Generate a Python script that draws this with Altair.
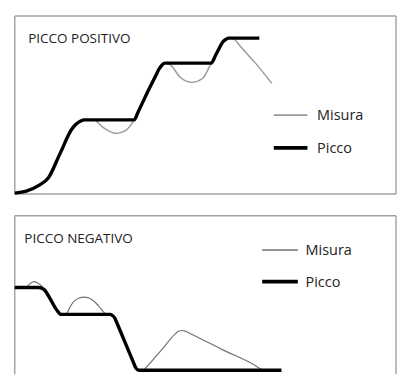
import altair as alt
import pandas as pd

# ---- data (time units, level units) ----
pos_picco_t = [0, 12, 25, 35, 47, 59, 63, 67, 72, 120, 124, 128, 137, 146, 150, 153, 156,
               200, 204, 209, 217, 220, 222, 254]
pos_picco_v = [1, 3, 9, 17, 42, 67, 72, 75, 77, 77, 77, 85, 104, 122, 130, 134, 136,
               136, 136, 145, 159, 161, 162, 162]

pos_misura_t = [0, 12, 25, 35, 47, 59, 63, 67, 72, 82, 92, 105, 115, 124, 128, 137, 146,
                150, 153, 156, 162, 172, 184, 195, 204, 209, 217, 220, 222, 226, 229,
                233, 250, 267]
pos_misura_v = [1, 3, 9, 17, 42, 67, 72, 75, 77, 77, 69, 63, 66, 77, 85, 104, 122,
                130, 134, 136, 134, 121, 116, 120, 136, 145, 159, 161, 162, 162, 160,
                155, 136, 115]

neg_picco_t = [0, 25, 28, 31, 34, 44, 47, 49, 99, 101, 104, 106, 123, 126, 129, 131, 277]
neg_picco_v = [90, 90, 89.3, 87.4, 83, 66, 62.5, 62, 62, 61.3, 58, 53.4, 12.9, 6, 4, 4, 4]

neg_misura_t = [0, 10, 12, 16, 20, 25, 29, 31, 34, 44, 47, 49, 52, 54, 57, 62, 67, 72, 77,
                82, 87, 92, 95, 99, 101, 104, 106, 123, 126, 129, 134, 136, 152, 166, 170,
                174, 178, 182, 216, 252, 257]
neg_misura_v = [90, 90, 90.5, 94, 96, 94, 90.5, 87.4, 83, 66, 62.5, 62, 62, 63, 69, 76,
                79, 80, 79, 76, 71, 65, 62, 62, 61.3, 58, 53.4, 12.9, 6, 4, 4, 6.3, 24.6,
                41.1, 44.5, 45.3, 44.2, 42.3, 25.2, 7.5, 4]

titles = ["PICCO POSITIVO", "PICCO NEGATIVO"]
legend_labels = ["Misura", "Picco"]

W = 396
H_TOP = 186
H_BOT = 165
FONT = "Open Sans"
TXT = "#222222"


def series(t, v):
    return pd.DataFrame({"t": t, "v": v, "o": list(range(len(t)))})


def lines(df, ymax, color, width):
    return alt.Chart(df).mark_line(
        interpolate="monotone", color=color, strokeWidth=width
    ).encode(
        x=alt.X("t:Q", scale=alt.Scale(domain=[0, W], nice=False, zero=True), axis=None),
        y=alt.Y("v:Q", scale=alt.Scale(domain=[0, ymax], nice=False), axis=None),
        order="o:O",
    )


def text(label, x, y, size):
    return alt.Chart(pd.DataFrame({"l": [label]})).mark_text(
        align="left", baseline="middle", font=FONT, fontSize=size, color=TXT
    ).encode(text="l:N", x=alt.value(x), y=alt.value(y))


def legend_line(x1, x2, y, color, width):
    return alt.Chart(pd.DataFrame({"a": [0]})).mark_rule(
        color=color, strokeWidth=width
    ).encode(x=alt.value(x1), x2=alt.value(x2), y=alt.value(y))


def border_rule(x1, x2, y1, y2):
    return alt.Chart(pd.DataFrame({"a": [0]})).mark_rule(
        color="#a3a3a3", strokeWidth=1.5
    ).encode(x=alt.value(x1), x2=alt.value(x2), y=alt.value(y1), y2=alt.value(y2))


MIS_TOP = "#9a9a9a"
MIS_BOT = "#707070"

top = alt.layer(
    border_rule(0, W, 1, 1),
    border_rule(0, W, H_TOP, H_TOP),
    border_rule(0, 0, 1, H_TOP),
    border_rule(W, W, 1, H_TOP),
    lines(series(pos_misura_t, pos_misura_v), H_TOP, MIS_TOP, 1.5),
    lines(series(pos_picco_t, pos_picco_v), H_TOP, "#000000", 3.5),
    text(titles[0], 14, 25, 14),
    legend_line(269, 304, 104, MIS_TOP, 2),
    legend_line(269, 304, 138, "#000000", 4),
    text(legend_labels[0], 314, 104, 15),
    text(legend_labels[1], 314, 138, 15),
).properties(width=W, height=H_TOP)

bottom = alt.layer(
    border_rule(0, W, 0.5, 0.5),
    border_rule(0, 0, 0.5, H_BOT),
    border_rule(W, W, 0.5, H_BOT),
    lines(series(neg_misura_t, neg_misura_v), H_BOT, MIS_BOT, 1.2),
    lines(series(neg_picco_t, neg_picco_v), H_BOT, "#000000", 3.5),
    text(titles[1], 10, 25, 14),
    legend_line(257, 294, 36, MIS_BOT, 1.5),
    legend_line(257, 294, 69, "#000000", 4),
    text(legend_labels[0], 302, 36, 15),
    text(legend_labels[1], 302, 69, 15),
).properties(width=W, height=H_BOT)

chart = alt.vconcat(top, bottom, spacing=15).properties(
    padding=0, background="white"
).configure_view(stroke=None)

chart.save("out.html", embed_options={"renderer": "svg", "actions": False})
